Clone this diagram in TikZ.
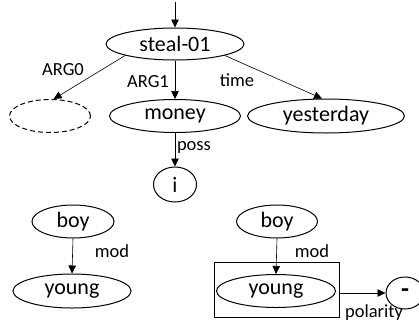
\documentclass[tikz,border=0pt]{standalone}
\usepackage{fontspec}
\setmainfont{Carlito}
\usetikzlibrary{shapes.geometric,arrows.meta}
\begin{document}
\begin{tikzpicture}[x=1pt,y=-1pt,
  concept/.style={ellipse,draw,line width=1pt,inner sep=0pt,font=\fontsize{22}{24}\selectfont},
  rel/.style={line width=0.6pt,-{Triangle[length=8pt,width=7.5pt]}},
  lbl/.style={font=\fontsize{18.5}{20}\selectfont,inner sep=0pt}]
\useasboundingbox (0,0) rectangle (419,324);
\coordinate (top) at (175,2);
\node[concept,minimum width=138pt,minimum height=32pt] (s) at (175,44) {steal-01};
\node[concept,dashed,dash pattern=on 5pt off 3pt,minimum width=81pt,minimum height=33pt] (d) at (50,116) {};
\node[concept,minimum width=131pt,minimum height=33pt] (m) at (175,116) {money};
\node[concept,minimum width=157pt,minimum height=34pt] (y) at (326,116) {yesterday};
\node[concept,minimum width=43pt,minimum height=35pt] (i) at (175,184.5) {i};
\node[concept,minimum width=82pt,minimum height=33pt] (b1) at (73,221.5) {boy};
\node[concept,minimum width=118pt,minimum height=34pt] (y1) at (72,291) {young};
\node[concept,minimum width=81pt,minimum height=33pt] (b2) at (277,221.5) {boy};
\node[draw,line width=1pt,minimum width=125pt,minimum height=55pt,inner sep=0pt] (box) at (276.5,289.5) {};
\node[concept,minimum width=119pt,minimum height=33pt] (y2) at (276,291) {young};
\node[concept,minimum width=38pt,minimum height=32pt,font=\fontsize{26}{28}\selectfont\bfseries] (neg) at (405,293) {-};

\draw[rel] (top) -- (s.north);
\draw[rel] (s.193) -- (d.78);
\draw[rel] (s.south) -- (m.north);
\draw[rel] (s.-13) -- (y.103);
\draw[rel] (m.south) -- (i.north);
\draw[rel] (b1.south) -- (y1.north);
\draw[rel] (b2.south) -- (y2.north);
\draw[rel] (box.east |- neg.west) -- (neg.west);

\node[lbl] (l1) at (63,70) {ARG0};
\node[lbl] (l2) at (148,82) {ARG1};
\node[lbl] (l3) at (237,80) {time};
\node[lbl] (l4) at (194,147) {poss};
\node[lbl] (l5) at (112,251) {mod};
\node[lbl] (l6) at (312,251) {mod};
\node[lbl] (l7) at (374,313) {polarity};
\end{tikzpicture}
\end{document}
